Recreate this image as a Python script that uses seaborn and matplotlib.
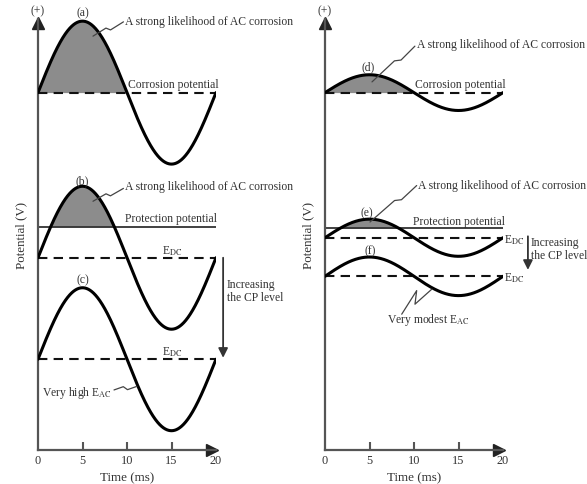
import numpy as np
import pandas as pd
import matplotlib
matplotlib.use("Agg")
import matplotlib.pyplot as plt
import matplotlib.transforms as mtransforms
import seaborn as sns

# ---------------- data ----------------
period_ms = 20.0
time_ticks = [0, 5, 10, 15, 20]
left_curves = ["(a)", "(b)", "(c)"]
left_baselines = [5.0, 2.69, 1.27]
left_amplitudes = [1.0, 1.0, 1.0]
left_protection = 3.12
right_curves = ["(d)", "(e)", "(f)"]
right_baselines = [5.0, 2.97, 2.43]
right_amplitudes = [0.25, 0.26, 0.27]
right_protection = 3.10
y_top = 6.03

# ---------------- style ----------------
sns.set_theme(style="white")
plt.rcParams["font.family"] = ["Liberation Serif", "DejaVu Serif"]
plt.rcParams["mathtext.fontset"] = "stix"

TXT = "#333333"
SPINE = "#555555"
FILL = "#8c8c8c"
FS = 8.4

W, H = 587, 485
fig = plt.figure(figsize=(W / 100, H / 100), dpi=100)
axL = fig.add_axes([38 / W, 34 / H, 178 / W, 431 / H])
axR = fig.add_axes([325 / W, 34 / H, 178 / W, 431 / H])

t = np.linspace(time_ticks[0], time_ticks[-1], 801)


def wave_frame(names, bases, amps):
    rows = []
    for n, b, a in zip(names, bases, amps):
        rows.append(pd.DataFrame({"t": t, "v": b + a * np.sin(2 * np.pi * t / period_ms), "curve": n}))
    return pd.concat(rows, ignore_index=True)


def setup(ax):
    ax.set_xlim(time_ticks[0], time_ticks[-1])
    ax.set_ylim(0, y_top)
    for s in ["top", "right"]:
        ax.spines[s].set_visible(False)
    for s in ["left", "bottom"]:
        ax.spines[s].set_color(SPINE)
        ax.spines[s].set_linewidth(1.6)
    ax.set_yticks([])
    ax.set_xticks(time_ticks)
    ax.set_xticklabels([str(v) for v in time_ticks])
    ax.tick_params(axis="x", direction="in", length=6, width=1.5, color=SPINE,
                   pad=3, labelsize=FS + 0.4, labelcolor=TXT, bottom=True)
    ticks = ax.xaxis.get_major_ticks()
    ticks[0].tick1line.set_visible(False)
    ticks[-1].tick1line.set_visible(False)
    ax.set_xlabel("")
    ax.set_ylabel("")
    tx = mtransforms.offset_copy(ax.transAxes, fig=fig, x=-4, y=0, units="dots")
    ty = mtransforms.offset_copy(ax.transAxes, fig=fig, x=0, y=-4, units="dots")
    ax.plot([1.0], [0], marker=">", ms=8, color="#222222", transform=tx, clip_on=False)
    ax.plot([0], [1.0], marker="^", ms=8, color="#222222", transform=ty, clip_on=False)
    ax.text(0.5, -0.063, "Time (ms)", transform=ax.transAxes, ha="center", va="center",
            fontsize=FS + 1, color=TXT)
    ax.text(-0.095, 0.5, "Potential (V)", transform=ax.transAxes, ha="center", va="center",
            rotation=90, fontsize=FS + 1, color=TXT)
    ax.text(0.0, 6.15, "(+)", ha="center", va="center", fontsize=FS, color=TXT, clip_on=False)


def draw_panel(ax, names, bases, amps, prot):
    df = wave_frame(names, bases, amps)
    for b in bases:
        ax.axhline(b, color="#111111", lw=1.5, ls=(0, (4.5, 3)), zorder=2)
    ax.axhline(prot, color="#333333", lw=1.3, zorder=2)
    # fills: first curve above its baseline, second above protection level
    for i, ref in [(0, bases[0]), (1, prot)]:
        v = bases[i] + amps[i] * np.sin(2 * np.pi * t / period_ms)
        ax.fill_between(t, v, ref, where=(v > ref) & (t <= period_ms / 2),
                        interpolate=True, color=FILL, lw=0, zorder=1)
    sns.lineplot(data=df, x="t", y="v", hue="curve", palette={n: "black" for n in names},
                 units="curve", estimator=None, sort=False, lw=2.2, legend=False, ax=ax, zorder=3)
    setup(ax)


draw_panel(axL, left_curves, left_baselines, left_amplitudes, left_protection)
draw_panel(axR, right_curves, right_baselines, right_amplitudes, right_protection)


def leader(ax, p0, p1, frac=0.5, h=1.8, spread=0.1, lw=0.9):
    T = ax.transData
    a = T.transform(p0)
    b = T.transform(p1)
    d = b - a
    L = np.hypot(*d)
    n = np.array([-d[1], d[0]]) / L
    A = a + (frac - spread / 2) * d + n * h
    B = a + (frac + spread / 2) * d - n * h
    pts = T.inverted().transform(np.array([a, A, B, b]))
    ax.plot(pts[:, 0], pts[:, 1], color="#444444", lw=lw, clip_on=False, zorder=4)


def poly(ax, pts, lw=0.9):
    pts = np.array(pts)
    ax.plot(pts[:, 0], pts[:, 1], color="#444444", lw=lw, clip_on=False, zorder=4)


txt = dict(fontsize=FS, color=TXT, clip_on=False)
EDC = r"E$_{\mathrm{DC}}$"

# ---- left panel annotations ----
axL.text(5.02, 6.13, left_curves[0], ha="center", va="center", **txt)
axL.text(5.02, 3.77, left_curves[1], ha="center", va="center", **txt)
axL.text(5.02, 2.39, left_curves[2], ha="center", va="center", **txt)
axL.text(9.78, 6.0, "A strong likelihood of AC corrosion", ha="left", va="center", **txt)
leader(axL, (6.18, 5.79), (9.6, 5.99))
axL.text(10.1, 5.12, "Corrosion potential", ha="left", va="center", **txt)
axL.text(9.78, 3.69, "A strong likelihood of AC corrosion", ha="left", va="center", **txt)
leader(axL, (6.18, 3.48), (9.6, 3.66))
axL.text(9.78, 3.24, "Protection potential", ha="left", va="center", **txt)
axL.text(15.1, 2.79, EDC, ha="center", va="center", **txt)
axL.text(15.1, 1.38, EDC, ha="center", va="center", **txt)
axL.annotate("", xy=(20.8, 1.29), xytext=(20.8, 2.69),
             arrowprops=dict(arrowstyle="-|>", color="#333333", lw=1.3,
                             mutation_scale=14, shrinkA=0, shrinkB=0),
             annotation_clip=False)
axL.text(21.2, 2.23, "Increasing\nthe CP level", ha="left", va="center",
         linespacing=1.15, **txt)
axL.text(8.31, 0.81, "Very high E$_{\\mathrm{AC}}$", ha="right", va="center", **txt)
leader(axL, (8.54, 0.84), (11.1, 0.89), h=1.8, spread=0.16)

# ---- right panel annotations ----
axR.text(4.9, 5.37, right_curves[0], ha="center", va="center", **txt)
axR.text(4.75, 3.33, right_curves[1], ha="center", va="center", **txt)
axR.text(5.06, 2.80, right_curves[2], ha="center", va="center", **txt)
axR.text(10.34, 5.68, "A strong likelihood of AC corrosion", ha="left", va="center", **txt)
leader(axR, (5.28, 5.15), (10.1, 5.65), frac=0.6)
axR.text(10.1, 5.12, "Corrosion potential", ha="left", va="center", **txt)
axR.text(10.45, 3.71, "A strong likelihood of AC corrosion", ha="left", va="center", **txt)
leader(axR, (5.06, 3.19), (10.3, 3.70), frac=0.6)
axR.text(9.89, 3.20, "Protection potential", ha="left", va="center", **txt)
axR.text(20.1, 2.95, EDC, ha="left", va="center", **txt)
axR.text(20.1, 2.42, EDC, ha="left", va="center", **txt)
axR.annotate("", xy=(22.8, 2.52), xytext=(22.8, 2.99),
             arrowprops=dict(arrowstyle="-|>", color="#333333", lw=1.3,
                             mutation_scale=14, shrinkA=0, shrinkB=0),
             annotation_clip=False)
axR.text(23.15, 2.82, "Increasing\nthe CP level", ha="left", va="center",
         linespacing=1.1, **txt)
axR.text(6.93, 1.83, "Very modest E$_{\\mathrm{AC}}$", ha="left", va="center", **txt)
poly(axR, [(8.62, 1.90), (10.3, 2.23), (10.11, 2.04), (12.0, 2.25)])

fig.savefig("out.png", dpi=100)
